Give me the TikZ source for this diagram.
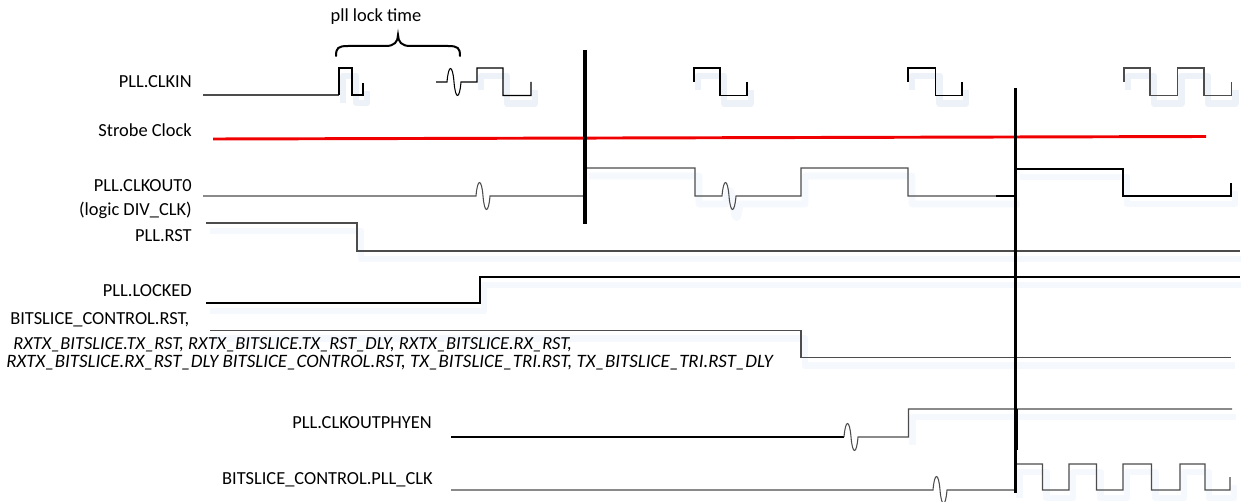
\documentclass[tikz,border=0pt]{standalone}
\usepackage{fontspec}
\setmainfont{Carlito}
\begin{document}
\begin{tikzpicture}[x=0.75pt,y=-0.75pt,
  lbl/.style={inner sep=0pt,font=\fontsize{13.8}{16}\selectfont},
  ilbl/.style={inner sep=0pt,font=\fontsize{13.8}{16}\selectfont\itshape},
  wave/.style={line width=0.8pt,draw=black!70,line join=miter},
  bwave/.style={line width=0.8pt,draw=black,line join=miter},
  shadowline/.style={line width=5pt,draw={rgb,255:red,214;green,226;blue,242},opacity=0.45,line join=round},
  marker/.style={line width=2.3pt,draw=black},
  strobe/.style={line width=2.2pt,draw={rgb,255:red,240;green,0;blue,0}}]
\useasboundingbox (0,0) rectangle (1241,502);
% wiggle: 14 px wide
\def\wig{.. controls +(1.5,-18) and +(-1.5,-18) .. ++(7,0) .. controls +(1.5,18) and +(-1.5,18) .. ++(7,0)}
% waveform paths
\def\wfClkinA{(339,95) -- (339,68) -- (352,68) -- (352,95) -- (363,95) -- (363,83)}
\def\wfClkinB{(436,82) -- (447,82) \wig -- (477,82) -- (477,68) -- (503,68) -- (503,95.5) -- (531,95.5) -- (531,82)}
\def\wfClkinC{(694,82) -- (694,68) -- (720,68) -- (720,95.5) -- (747,95.5) -- (747,82)}
\def\wfClkinD{(908,82) -- (908,68) -- (935.5,68) -- (935.5,95.5) -- (962,95.5) -- (962,82)}
\def\wfClkinE{(1124,82) -- (1124,68) -- (1150,68) -- (1150,95.5) -- (1177.5,95.5) -- (1177.5,68) -- (1204,68) -- (1204,95.5) -- (1231.5,95.5) -- (1231.5,82)}
\def\wfOutA{(203,196) -- (476,196) \wig -- (585,196)}
\def\wfOutB{(585,168) -- (695,168) -- (695,196) -- (722,196) \wig -- (801,196) -- (801,168) -- (908,168) -- (908,196) -- (1015.5,196)}
\def\wfOutC{(1015.5,169) -- (1123,169) -- (1123,196) -- (1231,196) -- (1231,183)}
\def\wfRst{(206,223) -- (357,223) -- (357,251) -- (1240,251)}
\def\wfLocked{(206,303) -- (480,303) -- (480,277) -- (1240,277)}
\def\wfBsrst{(210,330.5) -- (801,330.5) -- (801,357.5) -- (1231,357.5)}
\def\wfPhyA{(451,437) -- (844,437)}
\def\wfPhyB{(844,437) \wig -- (908.5,437) -- (908.5,409) -- (1232,409)}
\def\wfPll{(451,490) -- (933,490) \wig -- (1015.5,490) -- (1015.5,464) -- (1042.5,464) -- (1042.5,490) -- (1069,490) -- (1069,464) -- (1096.5,464) -- (1096.5,490) -- (1123,490) -- (1123,464) -- (1151.5,464) -- (1151.5,490) -- (1180,490) -- (1180,464) -- (1205,464) -- (1205,490) -- (1230,490) -- (1230,477)}
% shadows
\begin{scope}[shift={(4,8)}]
  \draw[shadowline] \wfClkinA;
  \draw[shadowline] (477,82) -- (477,68) -- (503,68) -- (503,95.5) -- (531,95.5) -- (531,82);
  \draw[shadowline] \wfClkinC;
  \draw[shadowline] \wfClkinD;
  \draw[shadowline] \wfClkinE;
  \draw[shadowline,opacity=0.25] \wfOutB;
  \draw[shadowline,opacity=0.25] \wfOutC;
  \draw[shadowline,opacity=0.25] \wfRst;
  \draw[shadowline,opacity=0.25] \wfLocked;
  \draw[shadowline,opacity=0.25] \wfBsrst;
  \draw[shadowline,opacity=0.25] (908.5,437) -- (908.5,409) -- (1232,409);
  \draw[shadowline,opacity=0.25] (1015.5,490) -- (1015.5,464) -- (1042.5,464) -- (1042.5,490) -- (1069,490) -- (1069,464) -- (1096.5,464) -- (1096.5,490) -- (1123,490) -- (1123,464) -- (1151.5,464) -- (1151.5,490) -- (1180,490) -- (1180,464) -- (1205,464) -- (1205,490) -- (1230,490) -- (1230,477);
\end{scope}
% labels
\node[lbl,anchor=east] (lclkin) at (192,82) {PLL.CLKIN};
\node[lbl,anchor=east] (lstrobe) at (192,130) {Strobe Clock};
\node[lbl,anchor=east] (lout) at (192,186) {PLL.CLKOUT0};
\node[lbl,anchor=east] (lout2) at (192,210) {(logic DIV\_CLK)};
\node[lbl,anchor=east] (lrst) at (192,236) {PLL.RST};
\node[lbl,anchor=east] (llocked) at (192,291) {PLL.LOCKED};
\node[lbl,anchor=west] (lbsrst) at (10,320) {BITSLICE\_CONTROL.RST,};
\node[ilbl,anchor=west] (lbs2) at (13,345) {RXTX\_BITSLICE.TX\_RST, RXTX\_BITSLICE.TX\_RST\_DLY, RXTX\_BITSLICE.RX\_RST,};
\node[ilbl,anchor=west,font=\fontsize{14.2}{16}\selectfont\itshape] (lbs3) at (6,363) {RXTX\_BITSLICE.RX\_RST\_DLY BITSLICE\_CONTROL.RST, TX\_BITSLICE\_TRI.RST, TX\_BITSLICE\_TRI.RST\_DLY};
\node[lbl,anchor=east] (lphy) at (432,423) {PLL.CLKOUTPHYEN};
\node[lbl,anchor=east] (lpll) at (433,480) {BITSLICE\_CONTROL.PLL\_CLK};
\node[lbl] (llock) at (376,17) {pll lock time};
% brace
\draw[line width=1.5pt,line cap=round] (336,56) .. controls (336,48) and (338,46) .. (348,46) -- (386,46) .. controls (394,46) and (398,42) .. (398,35) .. controls (398,42) and (402,46) .. (410,46) -- (448,46) .. controls (458,46) and (460,48) .. (460,56);
% waveforms
\draw[wave] (203,95) -- (339,95);
\draw[bwave] \wfClkinA;
\draw[bwave] \wfClkinB;
\draw[bwave] \wfClkinC;
\draw[bwave] \wfClkinD;
\draw[wave] \wfClkinE;
\draw[strobe] (213,139) -- (1206,136.5);
\draw[wave] \wfOutA;
\draw[wave] \wfOutB;
\draw[bwave] \wfOutC;
\draw[line width=1.6pt] (996,196) -- (1015.5,196);
\draw[wave] \wfRst;
\draw[bwave] \wfLocked;
\draw[wave] \wfBsrst;
\draw[line width=1.8pt] \wfPhyA;
\draw[wave] \wfPhyB;
\draw[wave] \wfPll;
% markers
\draw[marker] (585,50) -- (585,224);
\draw[marker] (1015.5,88) -- (1015.5,493);
\draw[line width=3pt] (1015.5,409) -- (1015.5,450);
\end{tikzpicture}
\end{document}
